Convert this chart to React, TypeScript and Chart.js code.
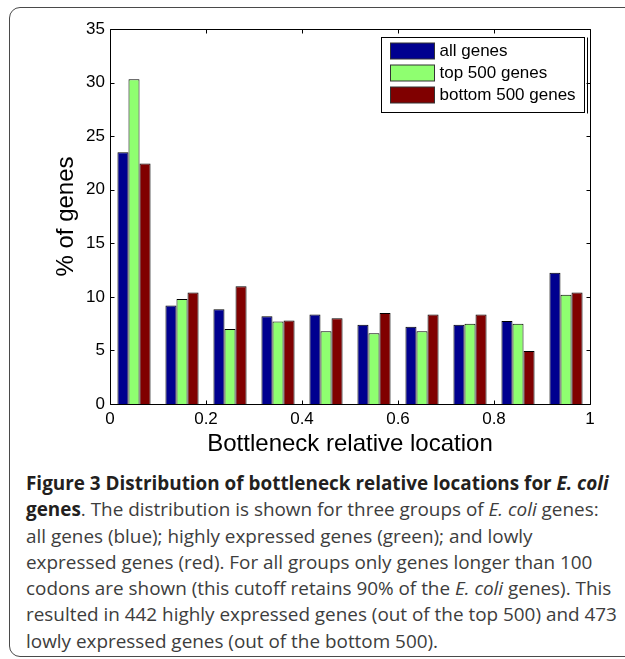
import React, { useEffect, useRef } from "react";
import { Chart, registerables } from "chart.js";

Chart.register(...registerables);

// ---- data ----
const binCenters = [0.05, 0.15, 0.25, 0.35, 0.45, 0.55, 0.65, 0.75, 0.85, 0.95];
const allGenes = [23.5, 9.2, 8.85, 8.2, 8.35, 7.4, 7.2, 7.4, 7.75, 12.25];
const top500Genes = [30.3, 9.8, 7.0, 7.7, 6.8, 6.6, 6.8, 7.5, 7.5, 10.2];
const bottom500Genes = [22.45, 10.4, 11.0, 7.8, 8.0, 8.5, 8.35, 8.35, 4.95, 10.4];
const seriesLabels = ["all genes", "top 500 genes", "bottom 500 genes"];
const seriesColors = ["#00008F", "#8FFF70", "#800000"];
const xTickValues = [0, 0.2, 0.4, 0.6, 0.8, 1];
const xTickLabels = ["0", "0.2", "0.4", "0.6", "0.8", "1"];
const yTickValues = [0, 5, 10, 15, 20, 25, 30, 35];
const yTickLabels = ["0", "5", "10", "15", "20", "25", "30", "35"];
const xTitle = "Bottleneck relative location";
const yTitle = "% of genes";

const FONT = "'Liberation Sans', Arial, Helvetica, sans-serif";

const framePlugin = {
  id: "matlabFrame",
  afterDatasetsDraw(chart: any) {
    const { ctx, chartArea: a, scales } = chart;
    const L = Math.round(a.left) + 0.5;
    const R = Math.round(a.right) + 0.5;
    const T = Math.round(a.top) + 0.5;
    const B = Math.round(a.bottom) + 0.5;
    const tl = 4;
    ctx.save();
    ctx.strokeStyle = "#000";
    ctx.lineWidth = 1;
    ctx.beginPath();
    ctx.rect(L, T, R - L, B - T);
    for (const v of xTickValues) {
      const x = Math.round(scales.x.getPixelForValue(v)) + 0.5;
      ctx.moveTo(x, T);
      ctx.lineTo(x, T + tl);
      ctx.moveTo(x, B);
      ctx.lineTo(x, B - tl);
    }
    for (const v of yTickValues) {
      const y = Math.round(scales.y.getPixelForValue(v)) + 0.5;
      ctx.moveTo(L, y);
      ctx.lineTo(L + tl, y);
      ctx.moveTo(R, y);
      ctx.lineTo(R - tl, y);
    }
    ctx.stroke();
    ctx.restore();
  },
  afterDraw(chart: any) {
    const { ctx, chartArea: a } = chart;
    const bl = Math.round(a.right - 209) + 0.5;
    const br = Math.round(a.right - 6) + 0.5;
    const bt = Math.round(a.top + 8) + 0.5;
    const bb = Math.round(a.top + 83) + 0.5;
    ctx.save();
    ctx.fillStyle = "#fff";
    ctx.fillRect(bl, bt, br - bl, bb - bt);
    ctx.strokeStyle = "#000";
    ctx.lineWidth = 1;
    ctx.strokeRect(bl, bt, br - bl, bb - bt);
    ctx.beginPath();
    ctx.moveTo(br + 3, bt);
    ctx.lineTo(br + 3, bb + 1);
    ctx.stroke();
    ctx.font = `17px ${FONT}`;
    ctx.textBaseline = "middle";
    ctx.textAlign = "left";
    chart.data.datasets.forEach((ds: any, i: number) => {
      const sy = bt + 5.5 + i * 22;
      const sx = bl + 9;
      ctx.fillStyle = ds.backgroundColor;
      ctx.fillRect(sx, sy, 44, 16);
      ctx.strokeStyle = "#333";
      ctx.strokeRect(sx, sy, 44, 16);
      ctx.fillStyle = "#000";
      ctx.fillText(ds.label, sx + 49, sy + 8.5);
    });
    ctx.restore();
  },
};

function BarChart() {
  const ref = useRef<HTMLCanvasElement | null>(null);
  useEffect(() => {
    if (!ref.current) return;
    const series = [allGenes, top500Genes, bottom500Genes];
    const chart = new Chart(ref.current, {
      type: "bar",
      data: {
        datasets: series.map((vals, i) => ({
          label: seriesLabels[i],
          data: binCenters.map((x, j) => ({ x, y: vals[j] })),
          backgroundColor: seriesColors[i],
          borderColor: "#000",
          borderWidth: 1,
          categoryPercentage: 0.69,
          barPercentage: 1,
        })),
      },
      options: {
        animation: false,
        responsive: false,
        maintainAspectRatio: false,
        layout: { padding: { left: 0, top: 29, right: 35, bottom: 0 } },
        plugins: { legend: { display: false }, tooltip: { enabled: false } },
        scales: {
          x: {
            type: "linear",
            min: 0,
            max: 1,
            offset: false,
            grid: { display: false, drawTicks: false },
            border: { display: false },
            afterBuildTicks: (s: any) => {
              s.ticks = xTickValues.map((v) => ({ value: v }));
            },
            ticks: {
              callback: (_v: any, i: number) => xTickLabels[i],
              font: { family: FONT, size: 17 },
              color: "#000",
              padding: 5,
              maxRotation: 0,
              autoSkip: false,
            },
            title: {
              display: true,
              text: xTitle,
              font: { family: FONT, size: 24 },
              color: "#000",
              padding: { top: 0, bottom: 11 },
            },
            afterFit: (s: any) => {
              s.height = 66;
            },
          },
          y: {
            type: "linear",
            min: 0,
            max: 35,
            grid: { display: false, drawTicks: false },
            border: { display: false },
            afterBuildTicks: (s: any) => {
              s.ticks = yTickValues.map((v) => ({ value: v }));
            },
            ticks: {
              callback: (_v: any, i: number) => yTickLabels[i],
              font: { family: FONT, size: 17 },
              color: "#000",
              padding: 5,
              autoSkip: false,
            },
            title: {
              display: true,
              text: yTitle,
              font: { family: FONT, size: 24 },
              color: "#000",
              padding: { top: 51.6, bottom: 0 },
            },
            afterFit: (s: any) => {
              s.width = 110;
            },
          },
        },
      } as any,
      plugins: [framePlugin],
    });
    return () => chart.destroy();
  }, []);
  return (
    <canvas
      ref={ref}
      width={625}
      height={470}
      style={{ position: "absolute", left: 0, top: 0, width: 625, height: 470, display: "block" }}
    />
  );
}

const CAP = "'Open Sans', 'Noto Sans', sans-serif";

export default function App() {
  const lineStyle: React.CSSProperties = { whiteSpace: "nowrap", height: 26.3, lineHeight: "26.3px" };
  const B: React.CSSProperties = { fontWeight: 700, color: "#231f20" };
  return (
    <div
      style={{
        position: "absolute",
        left: 0,
        top: 0,
        width: 625,
        height: 659,
        overflow: "hidden",
        background: "#fff",
      }}
    >
      <div
        style={{
          position: "absolute",
          left: 9,
          top: 7,
          width: 660,
          height: 650,
          boxSizing: "border-box",
          border: "1.5px solid #4a4a4a",
          borderRadius: 11,
        }}
      />
      <BarChart />
      <div
        style={{
          position: "absolute",
          left: 26,
          top: 470,
          fontFamily: CAP,
          fontSize: 18.9,
          color: "#3d3d3d",
        }}
      >
        <div style={lineStyle}>
          <span style={B}>
            Figure 3 Distribution of bottleneck relative locations for <i>E. coli</i>
          </span>
        </div>
        <div style={lineStyle}>
          <span style={B}>genes</span>. The distribution is shown for three groups of <i>E. coli</i> genes:
        </div>
        <div style={lineStyle}>all genes (blue); highly expressed genes (green); and lowly</div>
        <div style={lineStyle}>expressed genes (red). For all groups only genes longer than 100</div>
        <div style={lineStyle}>
          codons are shown (this cutoff retains 90% of the <i>E. coli</i> genes). This
        </div>
        <div style={lineStyle}>resulted in 442 highly expressed genes (out of the top 500) and 473</div>
        <div style={lineStyle}>lowly expressed genes (out of the bottom 500).</div>
      </div>
    </div>
  );
}
